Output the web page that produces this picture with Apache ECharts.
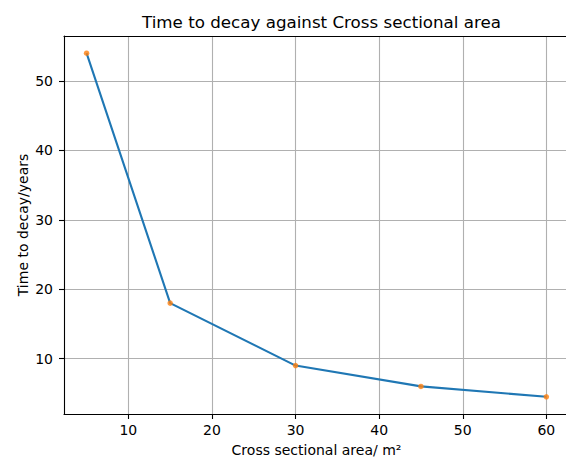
<!DOCTYPE html>
<html>
<head>
<meta charset="utf-8">
<script src="https://cdn.jsdelivr.net/npm/echarts@6/dist/echarts.min.js"></script>
<style>
  html, body { margin: 0; padding: 0; background: #fff; }
  #chart { width: 566px; height: 459px; }
</style>
</head>
<body>
<div id="chart"></div>
<script>
// Cross sectional area (m²) and the time each takes to decay (years)
const areas = [5, 15, 30, 45, 60];
const decayYears = [54, 18, 9, 6, 4.5];
const xTicks = [10, 20, 30, 40, 50, 60];
const yTicks = [10, 20, 30, 40, 50];

const titleText = 'Time to decay against Cross sectional area';
const xName = 'Cross sectional area/ m²';
const yName = 'Time to decay/years';

const points = areas.map((a, i) => [a, decayYears[i]]);
const font = 'DejaVu Sans';
const xMin = 2.3, xMax = 62.35;

const chart = echarts.init(document.getElementById('chart'), null, { renderer: 'svg' });
chart.setOption({
  animation: false,
  backgroundColor: '#fff',
  title: {
    text: titleText,
    left: 316.5,
    top: 8,
    textAlign: 'center',
    textStyle: { fontFamily: font, fontSize: 16.7, fontWeight: 'normal', color: '#000' }
  },
  grid: { left: 64, right: 0, top: 36, bottom: 45, outerBoundsMode: 'none', containLabel: false },
  xAxis: [
    {
      type: 'value',
      min: xMin, max: xMax,
      position: 'bottom',
      name: xName,
      nameLocation: 'middle',
      nameGap: 29,
      nameMoveOverlap: false,
      nameTextStyle: { fontFamily: font, fontSize: 14, color: '#000', padding: [0, 0, 0, 3] },
      axisLine: { show: true, onZero: false, lineStyle: { color: '#000', width: 1.1 } },
      axisTick: { show: true, length: 5, customValues: xTicks, lineStyle: { color: '#000', width: 1.1 } },
      axisLabel: { customValues: xTicks, margin: 9, fontFamily: font, fontSize: 14, color: '#000' },
      splitLine: { show: true, customValues: xTicks, lineStyle: { color: '#b0b0b0', width: 1.1 } }
    },
    {
      // top frame line
      type: 'value',
      min: xMin, max: xMax,
      position: 'top',
      axisLine: { show: true, onZero: false, lineStyle: { color: '#000', width: 1.1 } },
      axisTick: { show: false },
      axisLabel: { show: false },
      splitLine: { show: false }
    }
  ],
  yAxis: {
    type: 'value',
    min: 2.025, max: 56.475,
    name: yName,
    nameLocation: 'middle',
    nameGap: 34,
    nameMoveOverlap: false,
    nameTextStyle: { fontFamily: font, fontSize: 14, color: '#000' },
    axisLine: { show: true, onZero: false, lineStyle: { color: '#000', width: 1.1 } },
    axisTick: { show: true, length: 5, customValues: yTicks, lineStyle: { color: '#000', width: 1.1 } },
    axisLabel: { customValues: yTicks, margin: 11, fontFamily: font, fontSize: 14, color: '#000' },
    splitLine: { show: true, customValues: yTicks, lineStyle: { color: '#b0b0b0', width: 1.1 } }
  },
  series: [
    {
      type: 'line',
      data: points,
      showSymbol: false,
      lineStyle: { color: '#1f77b4', width: 2.1 },
      z: 2
    },
    {
      type: 'scatter',
      data: points,
      symbol: 'circle',
      symbolSize: 5.5,
      itemStyle: { color: '#ff7f0e' },
      z: 3
    }
  ]
});
</script>
</body>
</html>
